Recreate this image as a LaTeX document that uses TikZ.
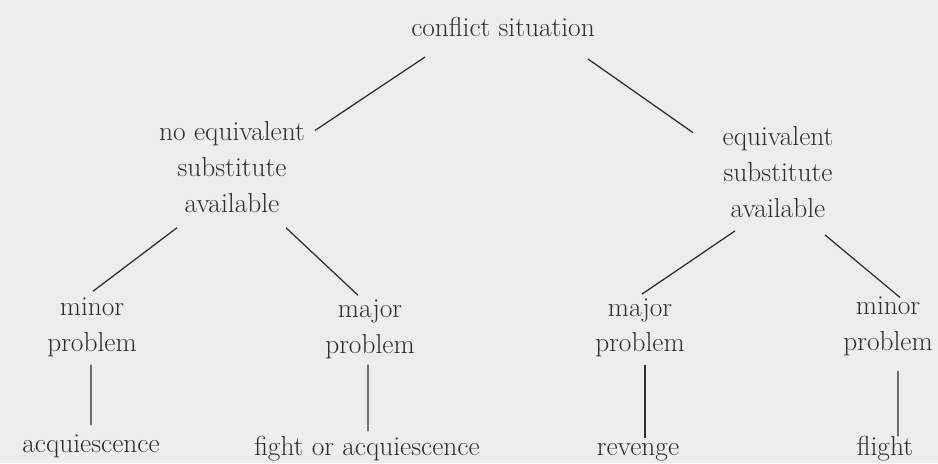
\documentclass[tikz,border=0pt]{standalone}
\usepackage{xcolor}
\definecolor{pagegray}{RGB}{237,237,236}
\definecolor{inkgray}{RGB}{45,45,45}

\begin{document}
\begin{tikzpicture}[
            word/.style = {align = center, inner sep = 0pt, text = inkgray, font = \fontsize{19.5}{25.5}\selectfont},
            branch/.style = {draw = inkgray, line width = 0.9pt}
        ]
            \fill[pagegray] (0, 0) rectangle (23.45, 11.575);
            \useasboundingbox (0, 0) rectangle (23.45, 11.575);

            \node[word] (conflict) at (12.575, 10.9) {conflict situation};

            \node[word] (noequiv) at (5.8, 7.4) {no equivalent\\substitute\\available};
            \node[word] (equiv) at (19.45, 7.27) {equivalent\\substitute\\available};

            \node[word] (minorA) at (2.3, 3.4) {minor\\problem};
            \node[word] (majorA) at (9.25, 3.35) {major\\problem};
            \node[word] (majorB) at (16.0, 3.38) {major\\problem};
            \node[word] (minorB) at (22.2, 3.42) {minor\\problem};

            \node[word, anchor = base] (acquiesce) at (2.275, 0.275) {acquiescence};
            \node[word, anchor = base] (fight) at (9.175, 0.18) {fight or acquiescence};
            \node[word, anchor = base] (revenge) at (15.95, 0.18) {revenge};
            \node[word, anchor = base] (flight) at (22.125, 0.18) {flight};

            \draw[branch] ([shift={(-1.95, -0.5)}]conflict.south) -- ([shift={(2.075, -0.23)}]noequiv.north);
            \draw[branch] ([shift={(2.125, -0.55)}]conflict.south) -- ([shift={(-2.125, -0.155)}]equiv.north);

            \draw[branch] ([shift={(-1.375, -0.375)}]noequiv.south) -- ([shift={(0.025, 0.15)}]minorA.north);
            \draw[branch] ([shift={(1.35, -0.375)}]noequiv.south) -- ([shift={(-0.3, 0.1)}]majorA.north);
            \draw[branch] ([shift={(-1.075, -0.325)}]equiv.south) -- ([shift={(0.05, 0.1)}]majorB.north);
            \draw[branch] ([shift={(1.175, -0.425)}]equiv.south) -- ([shift={(0.3, -0.025)}]minorB.north);

            \draw[branch] ([shift={(-0.025, -0.2)}]minorA.south) -- ([shift={(0, 0.22)}]acquiesce.north);
            \draw[branch] ([shift={(-0.05, -0.15)}]majorA.south) -- ([shift={(0.025, 0.13)}]fight.north);
            \draw[branch] ([shift={(0.125, -0.175)}]majorB.south) -- ([shift={(0.175, 0.14)}]revenge.north);
            \draw[branch] ([shift={(0.25, -0.375)}]minorB.south) -- ([shift={(0.325, 0.0)}]flight.north);
        \end{tikzpicture}
\end{document}
